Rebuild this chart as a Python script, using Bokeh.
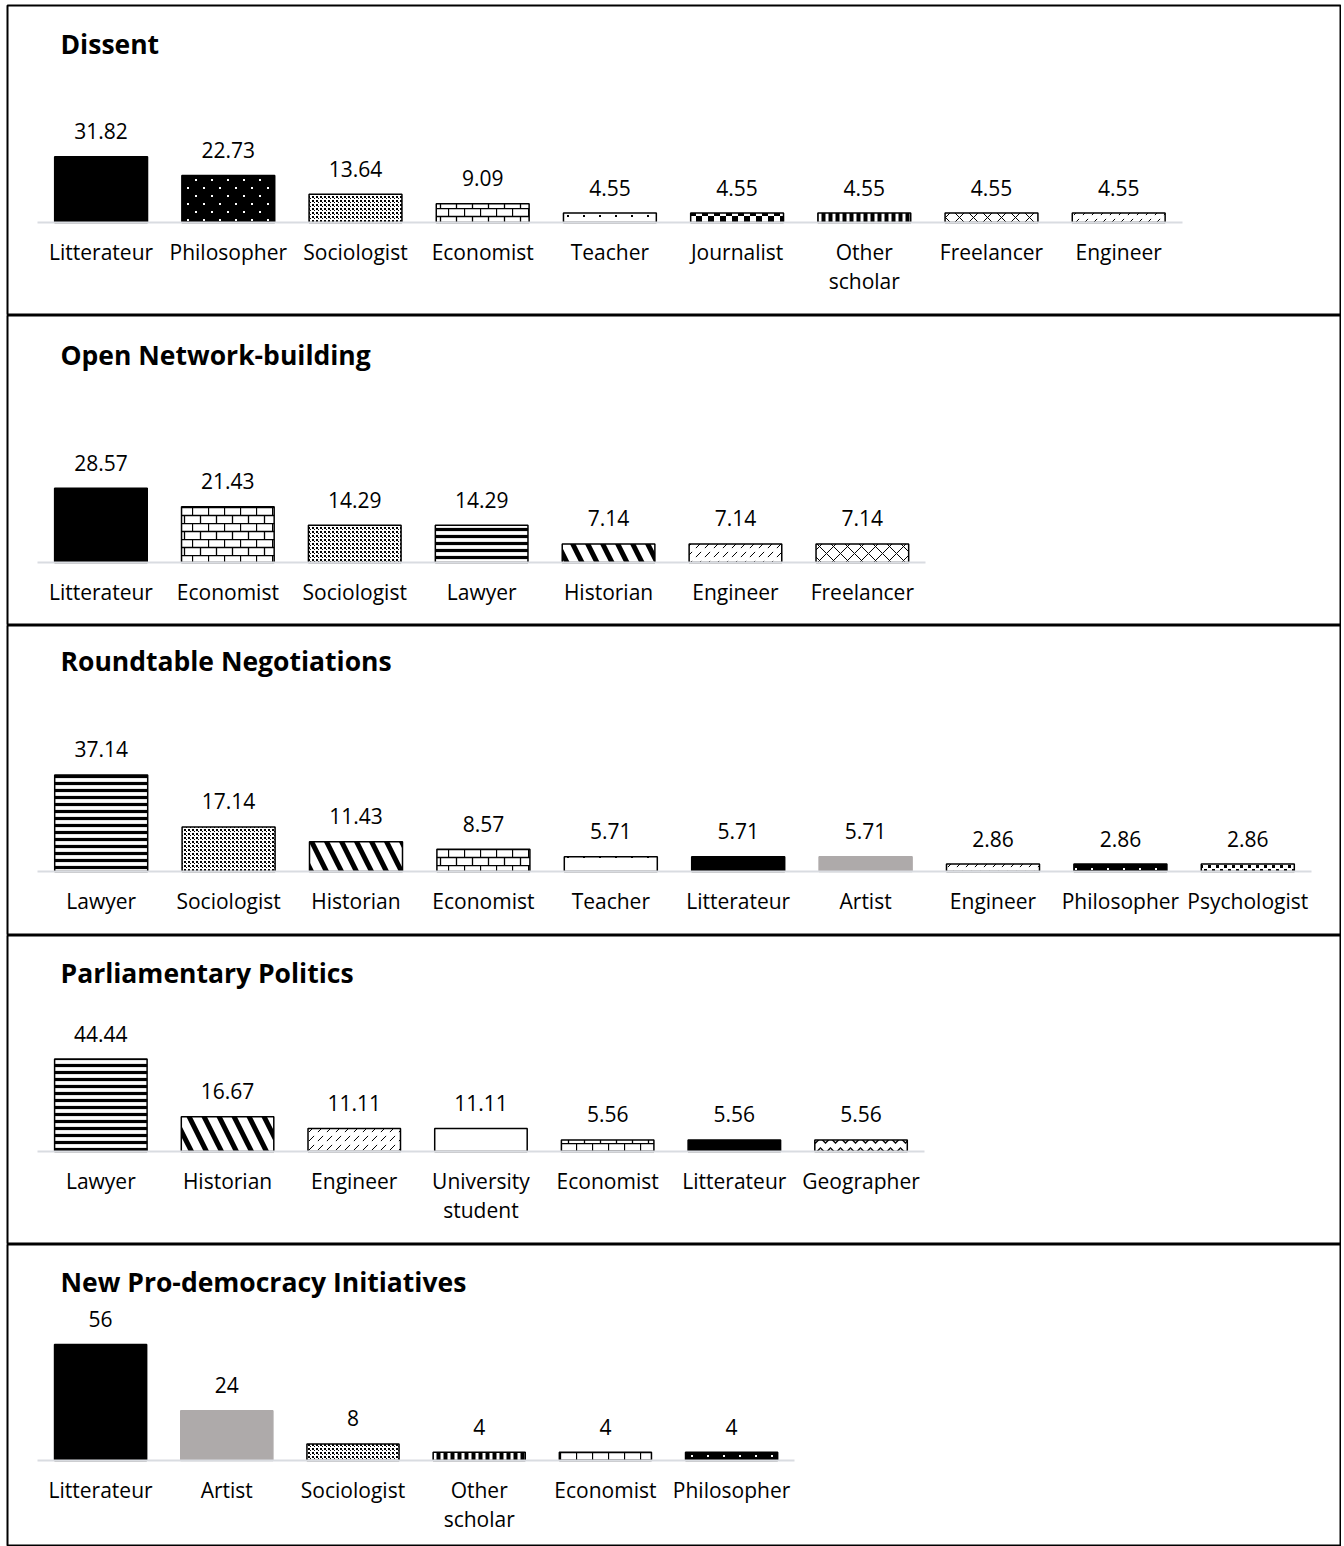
from bokeh.plotting import figure
from bokeh.layouts import column
from bokeh.models import ColumnDataSource, Range1d, FixedTicker, Label, CanvasTexture
from bokeh.core.properties import value, field
from bokeh.embed import file_html
from bokeh.resources import INLINE

# ---------------- data ----------------
dissent_cats = ["Litterateur", "Philosopher", "Sociologist", "Economist", "Teacher",
                "Journalist", "Other scholar", "Freelancer", "Engineer"]
dissent_vals = [31.82, 22.73, 13.64, 9.09, 4.55, 4.55, 4.55, 4.55, 4.55]

network_cats = ["Litterateur", "Economist", "Sociologist", "Lawyer", "Historian",
                "Engineer", "Freelancer"]
network_vals = [28.57, 21.43, 14.29, 14.29, 7.14, 7.14, 7.14]

roundtable_cats = ["Lawyer", "Sociologist", "Historian", "Economist", "Teacher",
                   "Litterateur", "Artist", "Engineer", "Philosopher", "Psychologist"]
roundtable_vals = [37.14, 17.14, 11.43, 8.57, 5.71, 5.71, 5.71, 2.86, 2.86, 2.86]

parliament_cats = ["Lawyer", "Historian", "Engineer", "University student", "Economist",
                   "Litterateur", "Geographer"]
parliament_vals = [44.44, 16.67, 11.11, 11.11, 5.56, 5.56, 5.56]

newdemo_cats = ["Litterateur", "Artist", "Sociologist", "Other scholar", "Economist",
                "Philosopher"]
newdemo_vals = [56, 24, 8, 4, 4, 4]

titles = ["Dissent", "Open Network-building", "Roundtable Negotiations",
          "Parliamentary Politics", "New Pro-democracy Initiatives"]
panel_cats = [dissent_cats, network_cats, roundtable_cats, parliament_cats, newdemo_cats]
panel_vals = [dissent_vals, network_vals, roundtable_vals, parliament_vals, newdemo_vals]


# ---------------- styles ----------------
def tex(size, body):
    return CanvasTexture(code=(
        "var c = ctx.canvas; if (c) { c.width = %d; c.height = %d; }\n" % (size, size)) + body)


TEXTURES = {
    "brick": tex(16, """
        ctx.strokeStyle = "#000000"; ctx.lineWidth = 1.3;
        ctx.beginPath();
        ctx.moveTo(0, 0.5); ctx.lineTo(16, 0.5);
        ctx.moveTo(0, 8.5); ctx.lineTo(16, 8.5);
        ctx.moveTo(0.5, 0); ctx.lineTo(0.5, 8.5);
        ctx.moveTo(8.5, 8.5); ctx.lineTo(8.5, 16);
        ctx.stroke();
    """),
    "finedot": tex(4, """
        ctx.fillStyle = "#000000";
        ctx.fillRect(0, 0, 2, 2); ctx.fillRect(2, 2, 1, 1);
    """),
    "bigcheck": tex(12, """
        ctx.fillStyle = "#000000";
        ctx.fillRect(0, 0, 6, 6); ctx.fillRect(6, 6, 6, 6);
    """),
    "whitedot": tex(16, """
        ctx.fillStyle = "#ffffff";
        ctx.fillRect(3, 3, 2, 2); ctx.fillRect(11, 11, 2, 2);
    """),
    "sparsedot": tex(16, """
        ctx.fillStyle = "#000000";
        ctx.fillRect(7, 7, 2, 2);
    """),
    "psychdot": tex(8, """
        ctx.fillStyle = "#000000";
        ctx.fillRect(0, 0, 3, 3); ctx.fillRect(4, 4, 3, 3);
    """),
}

BLACK = "#000000"
WHITE = "#ffffff"
STYLE = {
    "Litterateur":        dict(fill=BLACK, line=BLACK, pattern=" ", scale=12, weight=1),
    "Philosopher":        dict(fill=BLACK, line=BLACK, pattern="whitedot", scale=16, weight=1),
    "Sociologist":        dict(fill=WHITE, line=BLACK, pattern="finedot", scale=4, weight=1),
    "Economist":          dict(fill=WHITE, line=BLACK, pattern="brick", scale=16, weight=1),
    "Teacher":            dict(fill=WHITE, line=BLACK, pattern="sparsedot", scale=16, weight=1),
    "Journalist":         dict(fill=WHITE, line=BLACK, pattern="bigcheck", scale=12, weight=1),
    "Other scholar":      dict(fill=WHITE, line=BLACK, pattern="|", scale=7, weight=4),
    "Freelancer":         dict(fill=WHITE, line=BLACK, pattern="x", scale=14, weight=1),
    "Engineer":           dict(fill=WHITE, line=BLACK, pattern=",", scale=9, weight=1),
    "Lawyer":             dict(fill=WHITE, line=BLACK, pattern="-", scale=7, weight=3.2),
    "Historian":          dict(fill=WHITE, line=BLACK, pattern="\\", scale=30, weight=5),
    "Artist":             dict(fill="#aeaaaa", line="#aeaaaa", pattern=" ", scale=12, weight=1),
    "Psychologist":       dict(fill=WHITE, line=BLACK, pattern="psychdot", scale=8, weight=1),
    "Geographer":         dict(fill=WHITE, line=BLACK, pattern="v", scale=10, weight=1.3),
    "University student": dict(fill=WHITE, line=BLACK, pattern=" ", scale=12, weight=1),
}

# layout: figure height, top margin, baseline offset from frame top (px),
# px per unit, category width (px), title baseline offset from frame top
LAYOUT = [
    dict(h=315, top=5, base=217, ppu=2.07, cw=127.2, tb=38),
    dict(h=310, top=0, base=247, ppu=2.60, cw=126.9, tb=39),
    dict(h=310, top=0, base=246, ppu=2.60, cw=127.4, tb=35),
    dict(h=309, top=0, base=216, ppu=2.08, cw=126.7, tb=37),
    dict(h=302, top=0, base=216, ppu=2.07, cw=126.2, tb=37),
]

FONT = "Open Sans"
W = 1341
LEFT = 7


def make_panel(title, cats, vals, lay):
    frame_w = W - LEFT
    frame_h = lay["h"] - lay["top"]
    cw = lay["cw"]
    x0 = -30.0 / cw
    x_range = Range1d(x0, x0 + frame_w / cw)
    y_range = Range1d(-(frame_h - lay["base"]) / lay["ppu"], lay["base"] / lay["ppu"])
    p = figure(width=W, height=lay["h"], x_range=x_range, y_range=y_range,
               output_backend="svg", toolbar_location=None, y_axis_location=None,
               min_border_left=LEFT, min_border_right=0, min_border_top=lay["top"],
               min_border_bottom=0, outline_line_color="black", outline_line_width=2,
               background_fill_color="white", border_fill_color="white")
    p.grid.visible = False

    xs = [i + 0.5 for i in range(len(cats))]
    st = [STYLE[c] for c in cats]
    src = ColumnDataSource(dict(
        x=xs, top=vals, label=[f"{v:g}" for v in vals],
        fill=[s["fill"] for s in st], line=[s["line"] for s in st],
        pattern=[s["pattern"] for s in st],
        scale=[s["scale"] for s in st], weight=[s["weight"] for s in st],
    ))
    p.vbar(x="x", top="top", bottom=0, width=0.73, source=src,
           fill_color=field("fill"), line_color=field("line"), line_width=1.5,
           hatch_pattern=field("pattern"), hatch_color=BLACK,
           hatch_scale=field("scale"), hatch_weight=field("weight"),
           hatch_extra=TEXTURES)
    p.text(x="x", y="top", text="label", source=src, text_align="center",
           text_baseline="alphabetic", y_offset=-25.5, text_font=value(FONT),
           text_font_size="21px", text_color="#000000")

    ax = p.xaxis[0]
    ax.fixed_location = 0
    ax.ticker = FixedTicker(ticks=xs)
    ax.major_label_overrides = {x: c.replace(" ", "\n") for x, c in zip(xs, cats)}
    ax.bounds = (0, len(cats))
    ax.axis_line_color = "#d9dce1"
    ax.axis_line_width = 2
    ax.major_tick_line_color = None
    ax.minor_tick_line_color = None
    ax.major_label_text_font = FONT
    ax.major_label_text_font_size = "21px"
    ax.major_label_text_color = "#000000"
    ax.major_label_standoff = 9
    ax.major_label_text_line_height = 1.05

    p.add_layout(Label(x=53, y=frame_h - lay["tb"], x_units="screen", y_units="screen",
                       text=title, text_font=FONT, text_font_size="26.5px",
                       text_font_style="bold", text_baseline="alphabetic",
                       text_color="#000000"))
    return p


panels = [make_panel(t, c, v, l) for t, c, v, l in zip(titles, panel_cats, panel_vals, LAYOUT)]
layout = column(*panels, spacing=0)

open("out.html", "w").write(file_html(layout, INLINE))
